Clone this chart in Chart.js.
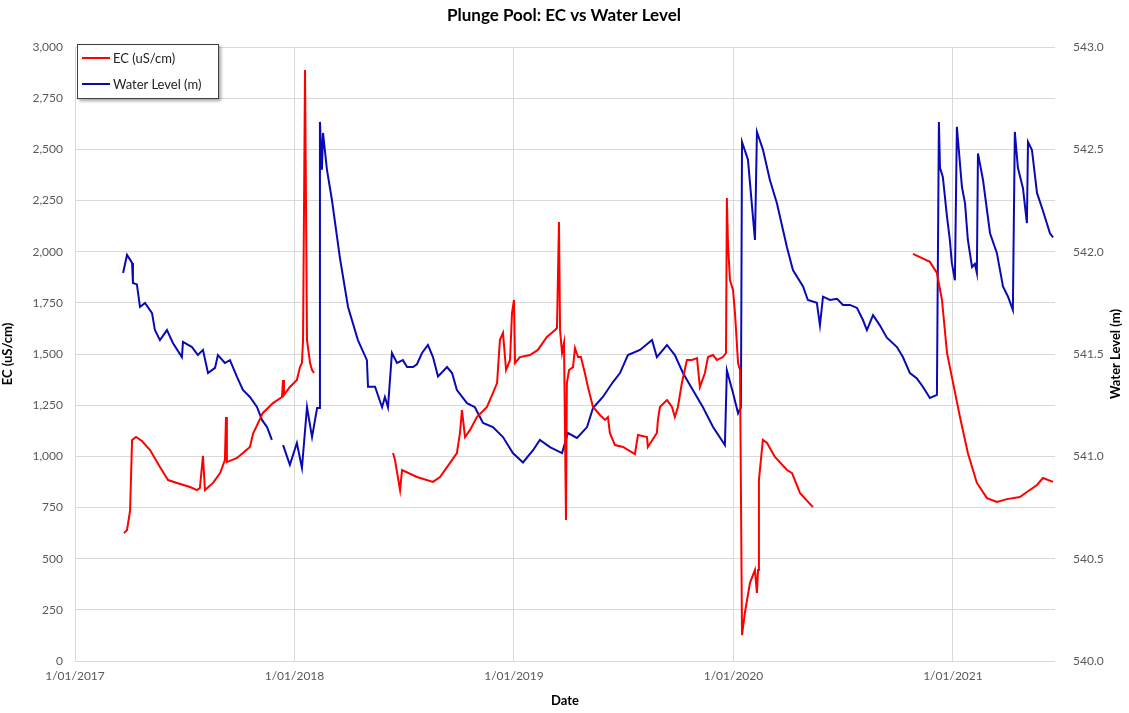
<!DOCTYPE html>
<html>
<head>
<meta charset="utf-8">
<script src="https://cdn.jsdelivr.net/npm/chart.js@4.4.1/dist/chart.umd.min.js"></script>
<style>
    html, body { margin: 0; padding: 0; background: #fff; }
    #wrap { position: relative; width: 1129px; height: 713px; }
    #legend {
        position: absolute; left: 77px; top: 44px; width: 140px; height: 53px;
        border: 1px solid #404040; background: #fff;
        box-shadow: 2px 2px 3px rgba(0,0,0,0.35);
        font-family: Lato, "Open Sans", sans-serif; font-size: 13px; color: #222;
    }
    .leg-item { position: absolute; left: 4px; display: flex; align-items: center; }
    .leg-line { width: 28px; height: 2px; margin-right: 3px; }
</style>
</head>
<body>
<div id="wrap">
    <canvas id="chart" width="1129" height="713"></canvas>
    <div id="legend"></div>
</div>
<script>
// x values are decimal years (2017.5 = mid 2017), null marks a logger gap
const ecYears = [
    2017.223, 2017.237, 2017.251, 2017.260, 2017.278, 2017.305, 2017.342, 2017.387, 2017.424, 2017.465,
    2017.524, 2017.556, 2017.569, 2017.583, 2017.592, 2017.629, 2017.661, 2017.683, 2017.688, 2017.692,
    2017.738, 2017.765, 2017.797, 2017.811, 2017.856, 2017.902, 2017.943, 2017.948, 2017.952, 2017.979,
    2018.011, 2018.025, 2018.034, 2018.039, 2018.048, 2018.057, 2018.071, 2018.080, 2018.089,
    2018.300,
    2018.449, 2018.458, 2018.481, 2018.490, 2018.558, 2018.631, 2018.663, 2018.708, 2018.740, 2018.754,
    2018.763, 2018.777, 2018.800, 2018.831, 2018.877, 2018.904, 2018.923, 2018.936, 2018.950, 2018.964,
    2018.982, 2018.991, 2019.000, 2019.005, 2019.027, 2019.073, 2019.109, 2019.150, 2019.187, 2019.196,
    2019.205, 2019.210, 2019.219, 2019.228, 2019.237, 2019.241, 2019.251, 2019.269, 2019.278, 2019.292,
    2019.305, 2019.323, 2019.337, 2019.360, 2019.392, 2019.415, 2019.428, 2019.437, 2019.460, 2019.497,
    2019.551, 2019.565, 2019.606, 2019.610, 2019.651, 2019.656, 2019.665, 2019.697, 2019.720, 2019.733,
    2019.747, 2019.765, 2019.788, 2019.811, 2019.834, 2019.847, 2019.870, 2019.884, 2019.907, 2019.925,
    2019.952, 2019.966, 2019.970, 2019.975, 2019.984, 2019.998, 2020.007, 2020.021, 2020.030, 2020.039,
    2020.052, 2020.075, 2020.098, 2020.107, 2020.112, 2020.116, 2020.134, 2020.153, 2020.189, 2020.244,
    2020.267, 2020.303, 2020.362,
    2020.600,
    2020.818, 2020.895, 2020.927, 2020.950, 2020.973, 2020.995, 2021.032, 2021.068, 2021.109, 2021.155,
    2021.200, 2021.246, 2021.305, 2021.337, 2021.383, 2021.410, 2021.456
];
const ecValues = [
    625, 640, 735, 1080, 1095, 1075, 1031, 948, 884, 870,
    850, 835, 845, 1002, 835, 870, 918, 982, 1192, 972,
    992, 1016, 1046, 1110, 1212, 1260, 1290, 1373, 1300, 1339,
    1373, 1436, 1456, 1568, 2888, 1568, 1456, 1422, 1407,
    null,
    1016, 982, 835, 933, 899, 875, 899, 967, 1016, 1114,
    1226, 1094, 1129, 1192, 1241, 1309, 1358, 1568, 1603, 1422,
    1471, 1700, 1764, 1456, 1485, 1495, 1520, 1583, 1617, 1627,
    2145, 1617, 1505, 1554, 689, 1358, 1422, 1436, 1529, 1485,
    1485, 1407, 1339, 1241, 1202, 1178, 1192, 1114, 1055, 1046,
    1011, 1104, 1094, 1046, 1114, 1178, 1241, 1275, 1241, 1192,
    1241, 1358, 1471, 1471, 1480, 1339, 1407, 1485, 1495, 1471,
    1485, 1505, 2262, 2042, 1861, 1813, 1700, 1456, 1422, 127,
    235, 381, 445, 332, 445, 884, 1080, 1065, 997, 933,
    918, 821, 752,
    null,
    1989, 1950, 1896, 1764, 1505, 1388, 1192, 1016, 870, 796,
    777, 791, 801, 826, 860, 894, 875
];

const wlYears = [
    2017.219, 2017.237, 2017.260, 2017.264, 2017.282, 2017.296, 2017.319, 2017.351, 2017.364, 2017.387,
    2017.419, 2017.446, 2017.487, 2017.492, 2017.533, 2017.560, 2017.583, 2017.606, 2017.638, 2017.651,
    2017.683, 2017.706, 2017.738, 2017.765, 2017.797, 2017.829, 2017.852, 2017.875, 2017.897,
    2017.920,
    2017.948, 2017.979, 2018.011, 2018.034, 2018.057, 2018.080, 2018.103, 2018.112, 2018.116, 2018.125,
    2018.130, 2018.148, 2018.171, 2018.207, 2018.244, 2018.289, 2018.330, 2018.335, 2018.367, 2018.399,
    2018.412, 2018.426, 2018.444, 2018.467, 2018.494, 2018.513, 2018.540, 2018.558, 2018.581, 2018.608,
    2018.631, 2018.654, 2018.695, 2018.718, 2018.740, 2018.786, 2018.822, 2018.859, 2018.904, 2018.950,
    2018.995, 2019.041, 2019.087, 2019.118, 2019.164, 2019.219, 2019.246, 2019.287, 2019.333, 2019.360,
    2019.405, 2019.451, 2019.483, 2019.519, 2019.574, 2019.629, 2019.651, 2019.697, 2019.733, 2019.770,
    2019.815, 2019.861, 2019.907, 2019.961, 2019.970, 2019.998, 2020.021, 2020.034, 2020.039, 2020.066,
    2020.098, 2020.107, 2020.134, 2020.166, 2020.198, 2020.244, 2020.271, 2020.317, 2020.339, 2020.380,
    2020.394, 2020.408, 2020.440, 2020.472, 2020.499, 2020.531, 2020.563, 2020.590, 2020.608, 2020.636,
    2020.667, 2020.699, 2020.745, 2020.772, 2020.804, 2020.836, 2020.863, 2020.895, 2020.927, 2020.936,
    2020.941, 2020.954, 2020.973, 2020.986, 2020.995, 2021.009, 2021.018, 2021.041, 2021.055, 2021.068,
    2021.087, 2021.100, 2021.109, 2021.114, 2021.137, 2021.169, 2021.200, 2021.228, 2021.251, 2021.273,
    2021.282, 2021.296, 2021.319, 2021.337, 2021.342, 2021.360, 2021.383, 2021.410, 2021.442, 2021.456
];
const wlValues = [
    541.896, 541.984, 541.945, 541.847, 541.840, 541.730, 541.749, 541.700, 541.617, 541.568,
    541.617, 541.554, 541.485, 541.559, 541.534, 541.495, 541.520, 541.407, 541.432, 541.495,
    541.456, 541.470, 541.388, 541.324, 541.290, 541.241, 541.178, 541.143, 541.080,
    null,
    541.055, 540.958, 541.065, 540.943, 541.241, 541.094, 541.236, 541.236, 542.634, 542.400,
    542.580, 542.400, 542.250, 541.970, 541.730, 541.568, 541.470, 541.340, 541.340, 541.240,
    541.290, 541.240, 541.505, 541.456, 541.470, 541.436, 541.436, 541.450, 541.505, 541.544,
    541.485, 541.390, 541.436, 541.407, 541.324, 541.260, 541.240, 541.163, 541.143, 541.094,
    541.016, 540.970, 541.030, 541.080, 541.045, 541.016, 541.114, 541.090, 541.143, 541.236,
    541.290, 541.363, 541.407, 541.495, 541.520, 541.568, 541.485, 541.544, 541.495, 541.407,
    541.324, 541.240, 541.143, 541.055, 541.420, 541.310, 541.210, 541.240, 542.536, 542.450,
    542.057, 542.585, 542.500, 542.350, 542.237, 542.020, 541.910, 541.830, 541.764, 541.750,
    541.640, 541.780, 541.764, 541.770, 541.740, 541.740, 541.725, 541.666, 541.617, 541.690,
    541.640, 541.580, 541.534, 541.485, 541.407, 541.380, 541.340, 541.285, 541.300, 542.634,
    542.410, 542.365, 542.170, 542.057, 541.945, 541.860, 542.610, 542.316, 542.237, 542.057,
    541.925, 541.940, 541.896, 542.480, 542.350, 542.090, 541.994, 541.830, 541.780, 541.715,
    542.585, 542.410, 542.310, 542.140, 542.536, 542.497, 542.287, 542.200, 542.090, 542.070
];

const yearTicks = [2017, 2018, 2019, 2020, 2021];
const ecTicks = [0, 250, 500, 750, 1000, 1250, 1500, 1750, 2000, 2250, 2500, 2750, 3000];
const wlTicks = [540.0, 540.5, 541.0, 541.5, 542.0, 542.5, 543.0];

const FONT = 'Lato, "Open Sans", sans-serif';
const TICK_COLOR = '#595959';
const GRID_COLOR = '#d9d9d9';

function toPoints(xs, ys) {
    return xs.map((x, i) => ({ x: x, y: ys[i] }));
}

const titlePlugin = {
    id: 'titles',
    afterDraw(chart) {
        const ctx = chart.ctx;
        ctx.save();
        ctx.fillStyle = '#000';
        ctx.textAlign = 'center';
        ctx.textBaseline = 'middle';
        ctx.font = `bold 17px ${FONT}`;
        ctx.fillText('Plunge Pool: EC vs Water Level', 564, 16);
        ctx.font = `bold 13px ${FONT}`;
        ctx.translate(1116, 354);
        ctx.rotate(-Math.PI / 2);
        ctx.fillText('Water Level (m)', 0, 0);
        ctx.restore();
    }
};

const chart = new Chart(document.getElementById('chart'), {
    type: 'line',
    data: {
        datasets: [
            {
                label: 'EC (uS/cm)',
                data: toPoints(ecYears, ecValues),
                borderColor: '#ff0000',
                borderWidth: 2,
                pointRadius: 0,
                tension: 0,
                spanGaps: false,
                yAxisID: 'y'
            },
            {
                label: 'Water Level (m)',
                data: toPoints(wlYears, wlValues),
                borderColor: '#0a0ab4',
                borderWidth: 2,
                pointRadius: 0,
                tension: 0,
                spanGaps: false,
                yAxisID: 'y2'
            }
        ]
    },
    options: {
        responsive: false,
        animation: false,
        layout: { padding: { top: 47, right: 0, left: 0, bottom: 0 } },
        plugins: {
            legend: { display: false },
            title: { display: false },
            tooltip: { enabled: false }
        },
        scales: {
            x: {
                type: 'linear',
                min: 2017,
                max: 2021.465,
                afterBuildTicks: scale => { scale.ticks = yearTicks.map(v => ({ value: v })); },
                afterFit: scale => { scale.height = 52; },
                ticks: {
                    color: TICK_COLOR,
                    font: { family: FONT, size: 12 },
                    padding: 8,
                    maxRotation: 0,
                    callback: v => '1/01/' + v
                },
                grid: { color: GRID_COLOR, drawTicks: false },
                border: { display: false },
                title: { display: true, text: 'Date', color: '#000', font: { family: FONT, size: 13, weight: 'bold' }, padding: { top: 4 } }
            },
            y: {
                position: 'left',
                min: 0,
                max: 3000,
                afterBuildTicks: scale => { scale.ticks = ecTicks.map(v => ({ value: v })); },
                afterFit: scale => { scale.width = 75; },
                ticks: {
                    color: TICK_COLOR,
                    font: { family: FONT, size: 12 },
                    padding: 12,
                    callback: v => v.toLocaleString('en-US')
                },
                grid: { color: GRID_COLOR, drawTicks: false },
                border: { display: false },
                title: { display: true, text: 'EC (uS/cm)', color: '#000', font: { family: FONT, size: 13, weight: 'bold' }, padding: 0 }
            },
            y2: {
                position: 'right',
                min: 540,
                max: 543,
                afterBuildTicks: scale => { scale.ticks = wlTicks.map(v => ({ value: v })); },
                afterFit: scale => { scale.width = 74; },
                ticks: {
                    color: TICK_COLOR,
                    font: { family: FONT, size: 12 },
                    padding: 18,
                    callback: v => v.toFixed(1)
                },
                grid: { display: false, drawTicks: false },
                border: { display: false }
            }
        }
    },
    plugins: [titlePlugin]
});

function buildLegend() {
    const legend = document.getElementById('legend');
    chart.data.datasets.forEach((ds, i) => {
        const item = document.createElement('div');
        item.className = 'leg-item';
        item.style.top = (i === 0 ? 5 : 31) + 'px';
        item.innerHTML = `<span class="leg-line" style="background:${ds.borderColor}"></span><span>${ds.label}</span>`;
        legend.appendChild(item);
    });
}

buildLegend();
</script>
</body>
</html>
